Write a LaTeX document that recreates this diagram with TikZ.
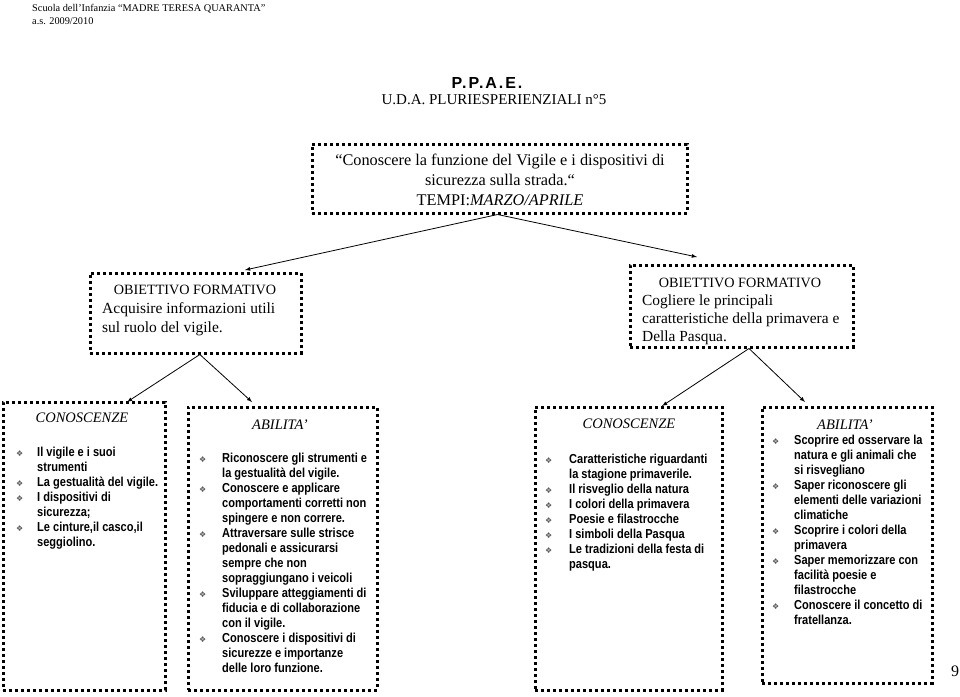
\documentclass[tikz,border=0pt]{standalone}
\usepackage{fontspec}
\setmainfont{Liberation Serif}
\newfontfamily\listfont[FakeStretch=0.85]{Liberation Sans}
\newfontfamily\symfont{DejaVu Sans}
\newfontfamily\headfont[LetterSpace=12]{Liberation Sans}
\usepackage{tikz}

\newcommand\bul[1]{\makebox[#1][l]{\symfont\fontsize{8}{8}\selectfont\color{black!65}❖}}
\tikzset{
  dotbox/.style={draw, line width=3pt, dash pattern=on 3pt off 3pt, inner sep=0pt},
  link/.style={->, >=latex, line width=0.8pt},
  lst/.style={inner sep=0pt, align=left, font=\listfont\bfseries\fontsize{13}{15}\selectfont},
  head/.style={inner sep=0pt, font=\itshape\fontsize{14.5}{17}\selectfont}
}

\begin{document}
\begin{tikzpicture}[x=1pt,y=1pt,yscale=-1]
\useasboundingbox (0,0) rectangle (960,696);

% boxes
\node (goal) [dotbox, minimum width=375, minimum height=69] at (499.5,178.5) {};
\node (objL) [dotbox, minimum width=211, minimum height=80] at (195.5,313) {};
\node (objR) [dotbox, minimum width=223, minimum height=82] at (741.5,306) {};
\node (boxA) [dotbox, minimum width=162, minimum height=288] at (84,546) {};
\node (boxB) [dotbox, minimum width=189, minimum height=283] at (282.5,548.5) {};
\node (boxC) [dotbox, minimum width=187, minimum height=283] at (628.5,548.5) {};
\node (boxD) [dotbox, minimum width=170, minimum height=276] at (847,545) {};

% arrow tips
\coordinate (tipL) at (245,270);
\coordinate (tipR) at (697,257);
\coordinate (tipA) at (127,402);
\coordinate (tipB) at (252,402);
\coordinate (tipC) at (662,406);
\coordinate (tipD) at (805,402);

\draw [link] (goal.-93) -- (tipL);
\draw [link] (goal.-93) -- (tipR);
\draw [link] (objL.-84) -- (tipA);
\draw [link] (objL.-84) -- (tipB);
\draw [link] (objR.-80) -- (tipC);
\draw [link] (objR.-80) -- (tipD);

% header
\draw (32,11) node (school) [anchor=base west][inner sep=0pt] {\fontsize{10.3}{12}\selectfont Scuola dell’Infanzia “MADRE TERESA QUARANTA”};
\draw (32,24) node (year) [anchor=base west][inner sep=0pt] {\fontsize{10.3}{12}\selectfont a.s. 2009/2010};
\draw (487,88) node (ppae) [anchor=base][inner sep=0pt] {\headfont\bfseries\fontsize{16}{18}\selectfont P.P.A.E.};
\draw (494,104) node (uda) [anchor=base][inner sep=0pt] {\fontsize{15}{18}\selectfont U.D.A. PLURIESPERIENZIALI n°5};

% texts in the upper boxes (base = last line)
\draw (500,205) node (goaltext) [anchor=base][inner sep=0pt][align=center][font=\fontsize{16.3}{20}\selectfont] {“Conoscere la funzione del Vigile e i dispositivi di\\ sicurezza sulla strada.“\\ TEMPI:\textit{MARZO/APRILE}};
\draw (195,294) node (objLhead) [anchor=base][inner sep=0pt] {\fontsize{14.2}{19}\selectfont OBIETTIVO FORMATIVO};
\draw (102,332) node (objLtext) [anchor=base west][inner sep=0pt][align=left][font=\fontsize{15.5}{19}\selectfont] {Acquisire informazioni utili\\ sul ruolo del vigile.};
\draw (740,287) node (objRhead) [anchor=base][inner sep=0pt] {\fontsize{14.2}{18}\selectfont OBIETTIVO FORMATIVO};
\draw (642,341) node (objRtext) [anchor=base west][inner sep=0pt][align=left][font=\fontsize{15.4}{18}\selectfont] {Cogliere le principali\\ caratteristiche della primavera e\\ Della Pasqua.};

\draw (82,422) node (headA) [head][anchor=base] {CONOSCENZE};
\draw (280,429) node (headB) [head][anchor=base] {ABILITA’};
\draw (629,428) node (headC) [head][anchor=base] {CONOSCENZE};
\draw (845,429) node (headD) [head][anchor=base] {ABILITA’};

% lists (base = last line)
\draw (16,546) node (listA) [lst][anchor=base west] {\bul{21pt}Il vigile e i suoi\\ \hspace*{21pt}strumenti\\
\bul{21pt}La gestualità del vigile.\\
\bul{21pt}I dispositivi di\\ \hspace*{21pt}sicurezza;\\
\bul{21pt}Le cinture,il casco,il\\ \hspace*{21pt}seggiolino.};
\draw (199,672) node (listB) [lst][anchor=base west] {\bul{23pt}Riconoscere gli strumenti e\\ \hspace*{23pt}la gestualità del vigile.\\
\bul{23pt}Conoscere e applicare\\ \hspace*{23pt}comportamenti corretti non\\ \hspace*{23pt}spingere e non correre.\\
\bul{23pt}Attraversare sulle strisce\\ \hspace*{23pt}pedonali e assicurarsi\\ \hspace*{23pt}sempre che non\\ \hspace*{23pt}sopraggiungano i veicoli\\
\bul{23pt}Sviluppare atteggiamenti di\\ \hspace*{23pt}fiducia e di collaborazione\\ \hspace*{23pt}con il vigile.\\
\bul{23pt}Conoscere i dispositivi di\\ \hspace*{23pt}sicurezze e importanze\\ \hspace*{23pt}delle loro funzione.};
\draw (545,568) node (listC) [lst][anchor=base west] {\bul{24pt}Caratteristiche riguardanti\\ \hspace*{24pt}la stagione primaverile.\\
\bul{24pt}Il risveglio della natura\\
\bul{24pt}I colori della primavera\\
\bul{24pt}Poesie e filastrocche\\
\bul{24pt}I simboli della Pasqua\\
\bul{24pt}Le tradizioni della festa di\\ \hspace*{24pt}pasqua.};
\draw (772,624) node (listD) [lst][anchor=base west] {\bul{22pt}Scoprire ed osservare la\\ \hspace*{22pt}natura e gli animali che\\ \hspace*{22pt}si risvegliano\\
\bul{22pt}Saper riconoscere gli\\ \hspace*{22pt}elementi delle variazioni\\ \hspace*{22pt}climatiche\\
\bul{22pt}Scoprire i colori della\\ \hspace*{22pt}primavera\\
\bul{22pt}Saper memorizzare con\\ \hspace*{22pt}facilità poesie e\\ \hspace*{22pt}filastrocche\\
\bul{22pt}Conoscere il concetto di\\ \hspace*{22pt}fratellanza.};

\draw (955,676) node (page) [anchor=base][inner sep=0pt] {\fontsize{16}{18}\selectfont 9};
\end{tikzpicture}
\end{document}
